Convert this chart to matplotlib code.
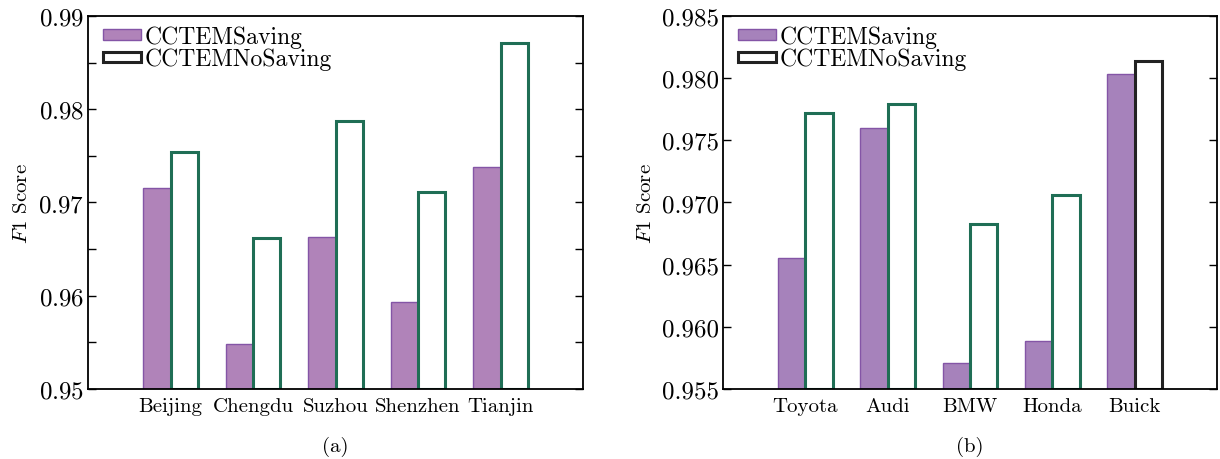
import matplotlib.pyplot as plt
import numpy as np
from matplotlib.patches import Patch
from matplotlib.ticker import MultipleLocator

plt.rcParams['font.family'] = ['cmr10', 'DejaVu Serif']
plt.rcParams['mathtext.fontset'] = 'cm'
plt.rcParams['axes.formatter.use_mathtext'] = True

cities = ['Beijing', 'Chengdu', 'Suzhou', 'Shenzhen', 'Tianjin']
city_saving = [0.9716, 0.9548, 0.9663, 0.9593, 0.9738]
city_nosaving = [0.9754, 0.9662, 0.9787, 0.9711, 0.9871]

cars = ['Toyota', 'Audi', 'BMW', 'Honda', 'Buick']
car_saving = [0.9655, 0.9760, 0.9571, 0.9589, 0.9803]
car_nosaving = [0.9772, 0.9779, 0.9683, 0.9706, 0.9814]

fig = plt.figure(figsize=(12.2, 4.6), dpi=100)
ax1 = fig.add_axes([88/1220, 70/460, 495/1220, 373/460])
ax2 = fig.add_axes([723/1220, 70/460, 494/1220, 373/460])

w = 0.33
green = '#1f6e55'


def draw(ax, labels, saving, nosaving, fill, edges, ylim, major, minor, tag):
    x = np.arange(len(labels))
    base = ylim[0]
    ax.bar(x - w/2, np.array(saving) - base, w, bottom=base, color=fill,
           edgecolor='#8455a6', linewidth=1.0, zorder=2)
    ax.bar(x + w/2, np.array(nosaving) - base, w, bottom=base, color='white',
           edgecolor=edges, linewidth=2.2, zorder=2)
    ax.set_xlim(-1, len(labels))
    ax.set_ylim(*ylim)
    ax.set_xticks(x)
    ax.set_xticklabels(labels, fontsize=15)
    ax.tick_params(axis='x', length=0, pad=6)
    ax.yaxis.set_major_locator(MultipleLocator(major))
    if minor:
        ax.yaxis.set_minor_locator(MultipleLocator(minor))
    ax.tick_params(axis='y', which='both', direction='in', right=True,
                   length=6, width=1.0, labelsize=18, pad=3)
    for s in ax.spines.values():
        s.set_linewidth(1.3)
    ax.set_ylabel('$F$1 Score', fontsize=15, labelpad=5)
    handles = [Patch(facecolor=fill, edgecolor='#8455a6', linewidth=1.0),
               Patch(facecolor='white', edgecolor='#222222', linewidth=2.2)]
    ax.legend(handles, ['CCTEMSaving', 'CCTEMNoSaving'], loc='upper left',
              bbox_to_anchor=(0.012, 1.0),
              frameon=False, fontsize=17, handlelength=1.6, handleheight=0.3,
              handletextpad=0.15, labelspacing=0.0, borderaxespad=0.1,
              borderpad=0.3)
    ax.text(0.5, -0.125, tag, transform=ax.transAxes, ha='center',
            va='top', fontsize=15)


draw(ax1, cities, city_saving, city_nosaving, '#b083b9', [green]*5,
     (0.95, 0.99), 0.01, 0.005, '(a)')
draw(ax2, cars, car_saving, car_nosaving, '#a682bb', [green]*4 + ['#222222'],
     (0.955, 0.985), 0.005, None, '(b)')
ax2.yaxis.set_major_formatter(plt.FormatStrFormatter('%.3f'))

fig.savefig('out.png')
